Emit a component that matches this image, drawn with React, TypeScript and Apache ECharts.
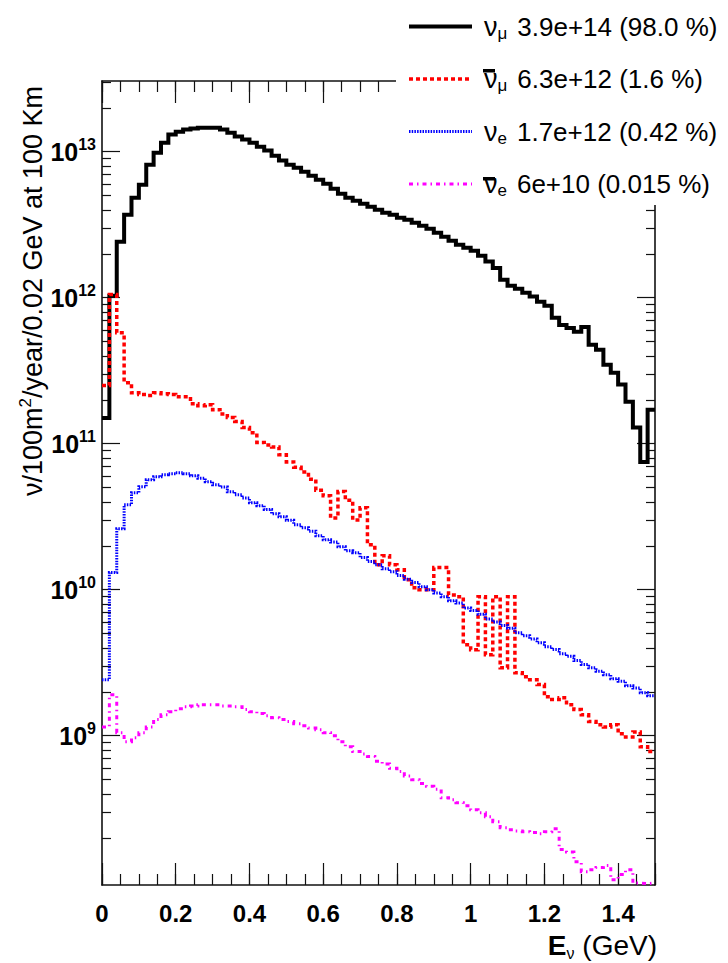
import React, { useEffect, useRef } from 'react';
import * as echarts from 'echarts';

// Bin edges (GeV), bin width 0.02
const BIN_EDGES = [0, 0.02, 0.04, 0.06, 0.08, 0.1, 0.12, 0.14, 0.16, 0.18, 0.2, 0.22, 0.24, 0.26, 0.28, 0.3, 0.32, 0.34, 0.36, 0.38, 0.4, 0.42, 0.44, 0.46, 0.48, 0.5, 0.52, 0.54, 0.56, 0.58, 0.6, 0.62, 0.64, 0.66, 0.68, 0.7, 0.72, 0.74, 0.76, 0.78, 0.8, 0.82, 0.84, 0.86, 0.88, 0.9, 0.92, 0.94, 0.96, 0.98, 1.0, 1.02, 1.04, 1.06, 1.08, 1.1, 1.12, 1.14, 1.16, 1.18, 1.2, 1.22, 1.24, 1.26, 1.28, 1.3, 1.32, 1.34, 1.36, 1.38, 1.4, 1.42, 1.44, 1.46, 1.48, 1.5];

const NUMU = [1.5e11, 1.03e12, 2.42e12, 3.7e12, 4.84e12, 5.94e12, 8.15e12, 9.84e12, 1.15e13, 1.31e13,
  1.37e13, 1.42e13, 1.44e13, 1.46e13, 1.46e13, 1.46e13, 1.42e13, 1.35e13, 1.27e13, 1.21e13,
  1.15e13, 1.08e13, 1.02e13, 9.4e12, 8.7e12, 8.15e12, 7.76e12, 7.29e12, 6.85e12, 6.43e12,
  6.04e12, 5.58e12, 5.16e12, 4.84e12, 4.61e12, 4.4e12, 4.2e12, 4.01e12, 3.82e12, 3.7e12,
  3.53e12, 3.42e12, 3.26e12, 3.11e12, 2.97e12, 2.79e12, 2.62e12, 2.46e12, 2.31e12, 2.2e12,
  2.1e12, 1.94e12, 1.77e12, 1.6e12, 1.33e12, 1.21e12, 1.15e12, 1.08e12, 1.02e12, 9.4e11,
  8.8e11, 7.3e11, 6.5e11, 6.2e11, 5.85e11, 6.3e11, 4.76e11, 4.4e11, 3.48e11, 3.06e11,
  2.54e11, 1.94e11, 1.29e11, 7.5e10, 1.71e11];

const NUMUBAR = [2.5e11, 1.05e12, 5.75e11, 2.62e11, 2.23e11, 2.17e11, 2.14e11, 2.23e11, 2.2e11, 2.17e11,
  2.1e11, 2.1e11, 1.88e11, 1.82e11, 1.85e11, 1.71e11, 1.6e11, 1.51e11, 1.42e11, 1.29e11,
  1.19e11, 1.02e11, 9.8e10, 9.5e10, 8.4e10, 7.5e10, 6.9e10, 6.4e10, 5.7e10, 4.8e10,
  4.4e10, 3.1e10, 4.7e10, 4.1e10, 3.0e10, 3.65e10, 2.03e10, 1.48e10, 1.71e10, 1.48e10,
  1.37e10, 1.17e10, 1.03e10, 1.0e10, 1.0e10, 1.42e10, 1.42e10, 9.2e9, 8.96e9, 4.2e9,
  3.88e9, 8.96e9, 3.59e9, 8.96e9, 2.92e9, 8.96e9, 2.7e9, 2.54e9, 2.42e9, 2.24e9,
  1.85e9, 1.77e9, 1.82e9, 1.63e9, 1.51e9, 1.39e9, 1.25e9, 1.19e9, 1.15e9, 1.19e9,
  1.03e9, 9.8e8, 1.06e9, 8.4e8, 7.8e8];

const NUE = [2.42e9, 1.31e10, 2.62e10, 3.82e10, 4.61e10, 5.07e10, 5.66e10, 5.94e10, 6.14e10, 6.24e10,
  6.33e10, 6.24e10, 6.04e10, 5.8e10, 5.49e10, 5.24e10, 5.05e10, 4.69e10, 4.48e10, 4.25e10,
  3.94e10, 3.76e10, 3.55e10, 3.32e10, 3.16e10, 2.99e10, 2.79e10, 2.66e10, 2.52e10, 2.34e10,
  2.2e10, 2.12e10, 1.97e10, 1.85e10, 1.79e10, 1.66e10, 1.56e10, 1.48e10, 1.39e10, 1.33e10,
  1.25e10, 1.18e10, 1.12e10, 1.05e10, 1.0e10, 9.5e9, 8.96e9, 8.4e9, 8.1e9, 7.5e9,
  7.2e9, 6.8e9, 6.3e9, 6.0e9, 5.7e9, 5.45e9, 5.07e9, 4.84e9, 4.6e9, 4.34e9,
  4.07e9, 3.9e9, 3.65e9, 3.5e9, 3.27e9, 3.08e9, 2.92e9, 2.76e9, 2.62e9, 2.46e9,
  2.36e9, 2.2e9, 2.12e9, 1.97e9, 1.88e9];

const NUEBAR = [1.15e9, 1.91e9, 1.05e9, 9.1e8, 9.7e8, 1.05e9, 1.15e9, 1.29e9, 1.39e9, 1.46e9,
  1.53e9, 1.58e9, 1.6e9, 1.63e9, 1.63e9, 1.63e9, 1.6e9, 1.6e9, 1.58e9, 1.51e9,
  1.46e9, 1.42e9, 1.37e9, 1.33e9, 1.29e9, 1.25e9, 1.21e9, 1.17e9, 1.13e9, 1.1e9,
  1.05e9, 1.0e9, 9.1e8, 8.4e8, 7.8e8, 7.5e8, 7.2e8, 6.7e8, 6.4e8, 6.0e8,
  5.7e8, 5.3e8, 5.0e8, 4.7e8, 4.5e8, 4.3e8, 3.76e8, 3.65e8, 3.48e8, 3.32e8,
  3.11e8, 2.97e8, 2.79e8, 2.58e8, 2.34e8, 2.27e8, 2.23e8, 2.2e8, 2.17e8, 2.13e8,
  2.2e8, 2.31e8, 1.66e8, 1.6e8, 1.37e8, 1.17e8, 1.21e8, 1.25e8, 1.29e8, 1.03e8,
  1.12e8, 1.21e8, 9.8e7, 9.7e7, 9.8e7];

const SERIES_NAMES = ['numu', 'numubar', 'nue', 'nuebar'];
const LEGEND_SUB = ['\u03BC', '\u03BC', 'e', 'e'];
const LEGEND_ANTI = [false, true, false, true];
const LEGEND_TOTALS = ['3.9e+14 (98.0 %)', '6.3e+12 (1.6 %)', '1.7e+12 (0.42 %)', '6e+10 (0.015 %)'];

const Y_MIN = 9.5e7;
const Y_MAX = 3.05e13;
const Y_MAJOR = [1e9, 1e10, 1e11, 1e12, 1e13];
const Y_MINOR = [2e8, 3e8, 4e8, 5e8, 6e8, 7e8, 8e8, 9e8,
  2e9, 3e9, 4e9, 5e9, 6e9, 7e9, 8e9, 9e9,
  2e10, 3e10, 4e10, 5e10, 6e10, 7e10, 8e10, 9e10,
  2e11, 3e11, 4e11, 5e11, 6e11, 7e11, 8e11, 9e11,
  2e12, 3e12, 4e12, 5e12, 6e12, 7e12, 8e12, 9e12,
  2e13, 3e13];

const FONT = '"Liberation Sans", Arial, Helvetica, sans-serif';
const AX = '#111';

const COLORS = ['#000000', '#ff0000', '#0000ff', '#ff00ff'];
const WIDTHS = [4, 3.5, 3, 3];
const DASHES: any[] = ['solid', [4, 3], [1.5, 1.2], [4, 4, 1.5, 4]];
const SERIES_VALUES = [NUMU, NUMUBAR, NUE, NUEBAR];

// legend layout (styles only)
const LEG_TOP = 13;
const LEG_ITEM_H = 30;
const LEG_GAP = 24;

function xAxisDef(position: string, interval: number, len: number, withLine: boolean, withLabels: boolean) {
  return {
    type: 'value', position, min: 0, max: 1.5, interval,
    axisLine: { show: withLine, onZero: false, lineStyle: { color: AX, width: 1.6 } },
    axisTick: { show: true, inside: true, length: len, lineStyle: { color: AX, width: 1.2 } },
    axisLabel: withLabels ? {
      show: true, margin: 16, color: '#000', fontFamily: FONT, fontSize: 24, fontWeight: 'bold',
      formatter: (v: number) => {
        const k = v / 0.2;
        return Math.abs(k - Math.round(k)) < 1e-6 ? String(+v.toFixed(1)) : '';
      },
    } : { show: false },
    splitLine: { show: false },
  };
}

function yAxisDef(position: string, vals: number[], len: number, withLine: boolean, withLabels: boolean) {
  return {
    type: 'log', logBase: 10, position, min: Y_MIN, max: Y_MAX,
    axisLine: { show: withLine, onZero: false, lineStyle: { color: AX, width: 1.6 } },
    axisTick: { show: true, inside: true, length: len, customValues: vals, lineStyle: { color: AX, width: 1.2 } },
    axisLabel: withLabels ? {
      show: true, margin: 6, customValues: Y_MAJOR, color: '#000', fontFamily: FONT,
      formatter: (v: number) => `{b|10}{s|${Math.round(Math.log10(v))}}`,
      rich: {
        b: { fontSize: 25, fontWeight: 'bold', fontFamily: FONT, color: '#000', lineHeight: 30 },
        s: { fontSize: 16, fontWeight: 'bold', fontFamily: FONT, color: '#000', lineHeight: 16, verticalAlign: 'top' },
      },
    } : { show: false },
    splitLine: { show: false },
    minorTick: { show: false },
  };
}

export default function App() {
  const ref = useRef<HTMLDivElement>(null);
  useEffect(() => {
    const chart = echarts.init(ref.current!, null, { renderer: 'svg' });
    const series = SERIES_NAMES.map((name, si) => ({
      name,
      type: 'line',
      step: 'end',
      symbol: 'none',
      xAxisIndex: 0,
      yAxisIndex: 0,
      data: BIN_EDGES.map((x, i) => [x, SERIES_VALUES[si][Math.min(i, SERIES_VALUES[si].length - 1)]]),
      lineStyle: { color: COLORS[si], width: WIDTHS[si], type: DASHES[si], cap: 'butt', join: 'miter' },
      itemStyle: { color: COLORS[si] },
      emphasis: { disabled: true },
    }));
    const legendRich = {
      nu: { fontSize: 27, fontFamily: FONT, color: '#000', lineHeight: 30 },
      sub: { fontSize: 17, fontFamily: FONT, color: '#000', lineHeight: 14, verticalAlign: 'bottom' },
      t: { fontSize: 26, fontFamily: FONT, color: '#000', lineHeight: 30, padding: [0, 0, 0, 10] },
    };
    // overbars for the anti-neutrino symbols in the legend
    const bars = SERIES_NAMES.map((_, i) => LEGEND_ANTI[i] ? {
      type: 'rect', z: 50,
      shape: { x: 483, y: LEG_TOP + i * (LEG_ITEM_H + LEG_GAP) + 2, width: 12, height: 3.5 },
      style: { fill: '#000' },
    } : null).filter(Boolean);
    const option: any = {
      animation: false,
      backgroundColor: '#fff',
      textStyle: { fontFamily: FONT },
      grid: { left: 102, right: 73, top: 81, bottom: 78 },
      xAxis: [
        xAxisDef('bottom', 0.2, 22, true, true),
        xAxisDef('bottom', 0.05, 11, false, false),
        xAxisDef('top', 0.2, 22, true, false),
        xAxisDef('top', 0.05, 11, false, false),
      ],
      yAxis: [
        yAxisDef('left', Y_MAJOR, 18, true, true),
        yAxisDef('left', Y_MINOR, 9, false, false),
        yAxisDef('right', Y_MAJOR, 18, true, false),
        yAxisDef('right', Y_MINOR, 9, false, false),
      ],
      legend: {
        show: true,
        orient: 'vertical',
        left: 396,
        top: 0,
        padding: [LEG_TOP, 40, 6, 11],
        itemGap: LEG_GAP,
        itemWidth: 63,
        itemHeight: LEG_ITEM_H,
        backgroundColor: '#fff',
        selectedMode: false,
        z: 10,
        itemStyle: { opacity: 0 },
        data: SERIES_NAMES.map((name, si) => ({
          name,
          lineStyle: { color: COLORS[si], width: WIDTHS[si], type: DASHES[si], cap: 'butt', opacity: 1 },
        })),
        formatter: (name: string) => {
          const i = SERIES_NAMES.indexOf(name);
          return `{nu|\u03BD}{sub|${LEGEND_SUB[i]}}{t|${LEGEND_TOTALS[i]}}`;
        },
        textStyle: { color: '#000', fontFamily: FONT, fontSize: 26, padding: [0, 0, 0, 7], rich: legendRich },
      },
      graphic: [
        {
          type: 'text',
          x: 33,
          y: 291,
          rotation: Math.PI / 2,
          style: {
            text: '{a|\u03BD/100m}{s|2}{a|/year/0.02 GeV at 100 Km}',
            align: 'center', verticalAlign: 'middle', textAlign: 'center', textVerticalAlign: 'middle',
            rich: {
              a: { fontSize: 27, fontFamily: FONT, fill: '#000', color: '#000', lineHeight: 32 },
              s: { fontSize: 17, fontFamily: FONT, fill: '#000', color: '#000', lineHeight: 16, verticalAlign: 'top' },
            },
          },
        },
        {
          type: 'text',
          x: 657,
          y: 945,
          style: {
            text: '{e|E}{s|\u03BD}{g| (GeV)}',
            align: 'right', verticalAlign: 'middle', textAlign: 'right', textVerticalAlign: 'middle',
            rich: {
              e: { fontSize: 28, fontFamily: FONT, fontWeight: 'bold', fill: '#000', color: '#000', lineHeight: 32 },
              s: { fontSize: 16, fontFamily: FONT, fill: '#000', color: '#000', lineHeight: 14, verticalAlign: 'bottom' },
              g: { fontSize: 28, fontFamily: FONT, fill: '#000', color: '#000', lineHeight: 32 },
            },
          },
        },
        ...bars,
      ],
      series,
    };
    chart.setOption(option);
    return () => chart.dispose();
  }, []);
  return <div ref={ref} style={{ position: 'absolute', left: 0, top: 0, width: 728, height: 963, background: '#fff' }} />;
}
